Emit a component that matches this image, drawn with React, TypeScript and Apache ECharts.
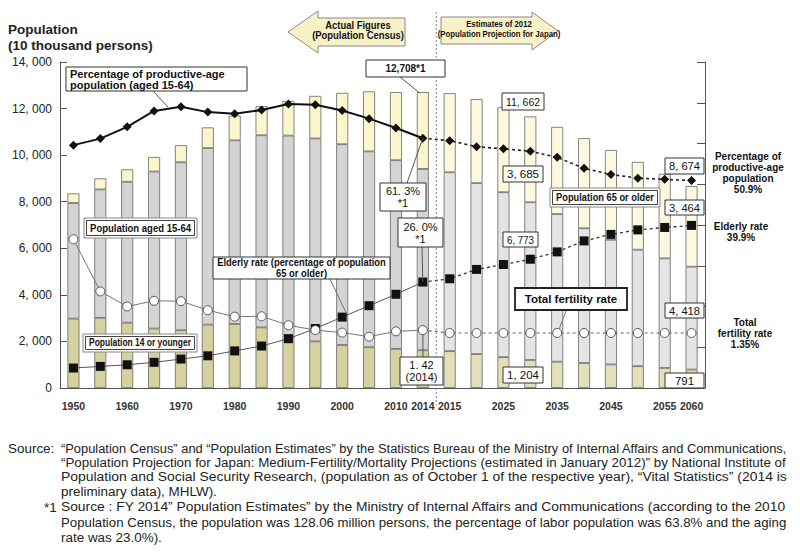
import React, { useEffect, useRef } from "react";
import * as echarts from "echarts";

const years = ["1950","1955","1960","1965","1970","1975","1980","1985","1990","1995","2000","2005","2010","2014","2015","2020","2025","2030","2035","2040","2045","2050","2055","2060"];
const shownYearLabels = ["1950","1960","1970","1980","1990","2000","2010","2014","2015","2025","2035","2045","2055","2060"];
const popUnder15 = [2979,3012,2807,2553,2482,2722,2751,2603,2249,2001,1847,1752,1680,1623,1583,1457,1324,1204,1129,1073,1012,939,861,791];
const pop15to64 = [4966,5517,6047,6744,7212,7581,7883,8251,8590,8716,8622,8409,8103,7785,7682,7341,7085,6773,6343,5787,5353,5001,4706,4418];
const pop65plus = [411,475,535,624,733,887,1065,1247,1489,1826,2204,2576,2925,3300,3395,3612,3657,3685,3741,3868,3856,3768,3626,3464];
const productiveRate = [59.6,61.2,64.1,68.0,69.0,67.7,67.3,68.2,69.7,69.5,68.1,66.1,63.8,61.3,60.7,59.2,58.7,58.1,56.6,53.9,52.4,51.5,51.2,50.9];
const elderlyRate = [4.9,5.3,5.7,6.3,7.1,7.9,9.1,10.3,12.1,14.6,17.4,20.2,23.0,26.0,26.8,29.1,30.3,31.6,33.4,36.1,37.7,38.8,39.4,39.9];
const fertilityRate = [3.65,2.37,2.00,2.14,2.13,1.91,1.75,1.76,1.54,1.42,1.36,1.26,1.39,1.42,1.35,1.35,1.35,1.35,1.35,1.35,1.35,1.35,1.35,1.35];
const lastActual = 13;

const SANS = "'Liberation Sans', Arial, sans-serif";

const fmtPop = (n: number) =>
  n >= 1000 ? `${Math.floor(n / 1000)}, ${String(n % 1000).padStart(3, "0")}` : String(n);

// [x, y, text, justified]
const sourceLines: [number, number, string, boolean][] = [
  [8, 448, "Source:", false],
  [61, 448, "“Population Census” and “Population Estimates” by the Statistics Bureau of the Ministry of Internal Affairs and Communications,", true],
  [61, 462, "“Population Projection for Japan: Medium-Fertility/Mortality Projections (estimated in January 2012)” by National Institute of", true],
  [61, 477, "Population and Social Security Research, (population as of October 1 of the respective year), “Vital Statistics” (2014 is", true],
  [61, 491, "preliminary data), MHLW).", false],
  [44, 507, "*1", false],
  [61, 507, "Source : FY 2014” Population Estimates” by the Ministry of Internal Affairs and Communications (according to the 2010", true],
  [61, 522, "Population Census, the population was 128.06 million persons, the percentage of labor population was 63.8% and the aging", true],
  [61, 537, "rate was 23.0%).", false],
];

let measureCtx: CanvasRenderingContext2D | null = null;
const measure = (t: string, size: number, weight = "normal") => {
  if (!measureCtx) measureCtx = document.createElement("canvas").getContext("2d");
  if (!measureCtx) return t.length * size * 0.5;
  measureCtx.font = `${weight} ${size}px 'Liberation Sans', Arial, sans-serif`;
  return Math.max(...t.split("\n").map((l) => measureCtx!.measureText(l).width));
};

export default function App() {
  const ref = useRef<HTMLDivElement>(null);
  useEffect(() => {
    const chart = echarts.init(ref.current!, null, { renderer: "svg", width: 800, height: 560 });
    const split = (vals: number[], actual: boolean) =>
      vals.map((v, i) =>
        actual ? (i <= lastActual ? v : null) : i < lastActual ? null : i === lastActual ? { value: v, symbol: "none" } : v
      );
    const barData = (vals: number[], c1: string, c2: string) =>
      vals.map((v, i) => ({ value: v, itemStyle: { color: i <= lastActual ? c1 : c2 } }));
    const fert10 = fertilityRate.map((v) => v * 10);

    const option: any = {
      animation: false,
      backgroundColor: "#ffffff",
      grid: { left: 60, right: 95, top: 62, bottom: 172 },
      xAxis: {
        type: "category",
        data: years,
        axisLine: { lineStyle: { color: "#555", width: 1 } },
        axisTick: { inside: true, length: 7, interval: 0, lineStyle: { color: "#555" } },
        axisLabel: {
          interval: (i: number, v: string) => shownYearLabels.includes(v),
          fontFamily: SANS,
          fontSize: 10.5,
          fontWeight: "bold",
          color: "#333",
          margin: 12,
        },
      },
      yAxis: [
        {
          type: "value",
          min: 0,
          max: 14000,
          interval: 2000,
          splitLine: { show: false },
          axisLine: { show: true, lineStyle: { color: "#555" } },
          axisTick: { show: true, inside: true, length: 7, lineStyle: { color: "#555" } },
          axisLabel: { formatter: (v: number) => fmtPop(v), fontFamily: SANS, fontSize: 12, color: "#222", margin: 8 },
        },
        {
          type: "value",
          min: 0,
          max: 80,
          interval: 10,
          position: "right",
          splitLine: { show: false },
          axisLine: { show: true, lineStyle: { color: "#555" } },
          axisTick: { show: true, inside: true, length: 8, lineStyle: { color: "#555" } },
          axisLabel: { show: false },
        },
      ],
      series: [
        { type: "bar", name: "Population 14 or younger", stack: "pop", barWidth: 12, data: barData(popUnder15, "#d6d2a0", "#e3dfbb"), itemStyle: { borderColor: "#666", borderWidth: 0.8 } },
        { type: "bar", name: "Population aged 15-64", stack: "pop", barWidth: 12, data: barData(pop15to64, "#d4d4d4", "#e4e4e4"), itemStyle: { borderColor: "#666", borderWidth: 0.8 } },
        { type: "bar", name: "Population 65 or older", stack: "pop", barWidth: 12, data: barData(pop65plus, "#fbf6cc", "#fcf9de"), itemStyle: { borderColor: "#666", borderWidth: 0.8 } },
        { type: "line", name: "Productive actual", yAxisIndex: 1, data: split(productiveRate, true), symbol: "diamond", symbolSize: 9, itemStyle: { color: "#111" }, lineStyle: { color: "#111", width: 2 }, z: 5 },
        { type: "line", name: "Productive projection", yAxisIndex: 1, data: split(productiveRate, false), symbol: "diamond", symbolSize: 9, itemStyle: { color: "#111" }, lineStyle: { color: "#222", width: 1.6, type: [3, 3] }, z: 5 },
        { type: "line", name: "Elderly actual", yAxisIndex: 1, data: split(elderlyRate, true), symbol: "rect", symbolSize: 9, itemStyle: { color: "#111" }, lineStyle: { color: "#555", width: 1 }, z: 5 },
        { type: "line", name: "Elderly projection", yAxisIndex: 1, data: split(elderlyRate, false), symbol: "rect", symbolSize: 9, itemStyle: { color: "#111" }, lineStyle: { color: "#333", width: 1.3, type: [3, 3] }, z: 5 },
        { type: "line", name: "TFR actual", yAxisIndex: 1, data: split(fert10, true), symbol: "circle", symbolSize: 9, itemStyle: { color: "#fff", borderColor: "#555", borderWidth: 1 }, lineStyle: { color: "#777", width: 1 }, z: 5 },
        { type: "line", name: "TFR projection", yAxisIndex: 1, data: split(fert10, false), symbol: "circle", symbolSize: 9, itemStyle: { color: "#fff", borderColor: "#555", borderWidth: 1 }, lineStyle: { color: "#666", width: 1.2, type: [3, 3] }, z: 5 },
      ],
    };
    chart.setOption(option);

    const px = (i: number, v: number, ax: number) =>
      chart.convertToPixel({ xAxisIndex: 0, yAxisIndex: ax }, [i, v]) as number[];
    const total = (i: number) => popUnder15[i] + pop15to64[i] + pop65plus[i];
    const sepX = (px(lastActual, 0, 0)[0] + px(lastActual + 1, 0, 0)[0]) / 2;

    const Z = 50;
    const g: any[] = [];
    const line = (x1: number, y1: number, x2: number, y2: number, stroke = "#444", dash?: number[]) =>
      g.push({ type: "line", z: Z, shape: { x1, y1, x2, y2 }, style: { stroke, lineWidth: 1, lineDash: dash } });
    const text = (x: number, y: number, t: string, o: any = {}) =>
      g.push({
        type: "text",
        z: Z + 2,
        x,
        y,
        scaleX: o.scaleX || 1,
        style: {
          text: t,
          fontFamily: SANS,
          fontSize: o.size || 10,
          fontWeight: o.weight || "normal",
          fill: o.fill || "#111",
          textAlign: o.align || "center",
          textVerticalAlign: o.valign || "middle",
          lineHeight: o.lh || 11,
        },
      });
    const box = (x: number, y: number, w: number, h: number, t: string, o: any = {}) => {
      g.push({ type: "rect", z: Z, shape: { x, y, width: w, height: h }, style: { fill: "#fff", stroke: o.stroke || "#333", lineWidth: o.lw || 1 } });
      const pad = o.double ? 12 : 8;
      if (o.double) {
        g.push({ type: "rect", z: Z + 1, shape: { x: x + 2.5, y: y + 2.5, width: w - 5, height: h - 5 }, style: { fill: "#fff", stroke: "#444", lineWidth: 1 } });
      }
      const tw = measure(t, o.size || 10, o.weight || "normal");
      const sx = Math.min(1, (w - pad) / tw);
      if (o.left) text(x + 4, y + h / 2, t, { ...o, align: "left", scaleX: sx });
      else text(x + w / 2, y + h / 2, t, { ...o, scaleX: sx });
    };

    // separator
    line(sepX, 12, sepX, 405, "#888", [2, 2]);

    // arrows
    g.push({ type: "polygon", z: Z, shape: { points: [[288, 32], [318, 11], [318, 18], [405, 18], [405, 46], [318, 46], [318, 53]] }, style: { fill: "#f9f1c8", stroke: "#8a8a8a", lineWidth: 1 } });
    text(358, 30, "Actual Figures\n(Population Census)", { weight: "bold", size: 10.5, lh: 10, scaleX: 0.9 });
    g.push({ type: "polygon", z: Z, shape: { points: [[441, 17], [532, 17], [532, 12], [558, 31], [532, 50], [532, 44], [441, 44]] }, style: { fill: "#f9f1c8", stroke: "#8a8a8a", lineWidth: 1 } });
    text(499, 29, "Estimates of 2012\n(Population Projection for Japan)", { weight: "bold", size: 9.5, lh: 10, scaleX: 0.82 });

    // title
    text(8, 29, "Population", { weight: "bold", size: 13.5, align: "left", fill: "#222" });
    text(8, 45, "(10 thousand persons)", { weight: "bold", size: 13.5, align: "left", fill: "#222" });

    // leader lines
    const dProd = px(lastActual, productiveRate[lastActual], 1);
    const dEld = px(lastActual, elderlyRate[lastActual], 1);
    const dTfr = px(lastActual, fert10[lastActual], 1);
    const dTop = px(lastActual, total(lastActual), 0);
    const dEld2000 = px(10, elderlyRate[10], 1);
    const dTfr2035 = px(18, fert10[18], 1);
    line(153, 91, 168, 107, "#555");
    line(400, 77, dTop[0] - 3, dTop[1] + 1, "#555");
    line(407, 183, dProd[0], dProd[1], "#555");
    line(422, 247, dEld[0], dEld[1], "#555");
    line(423, 357, dTfr[0], dTfr[1] + 4, "#555");
    line(330, 279, dEld2000[0] + 4, dEld2000[1] - 4, "#777");
    line(566, 311, dTfr2035[0] + 2, dTfr2035[1] - 4, "#777");

    // annotation boxes
    box(66, 67, 181, 24, "Percentage of productive-age\npopulation (aged 15-64)", { weight: "bold", size: 11, lh: 11, left: true });
    box(84, 218, 113, 20, "Population aged 15-64", { weight: "bold", size: 10, double: true, stroke: "#888" });
    box(83, 334, 114, 18, "Population 14 or younger", { weight: "bold", size: 10, double: true, stroke: "#888" });
    box(213, 257, 177, 22, "Elderly rate (percentage of population\n65 or older)", { weight: "bold", size: 10.5, lh: 10.5 });
    box(366, 60, 79, 17, fmtPop(total(lastActual)).replace(", ", ",") + "*1", { weight: "bold", size: 10 });
    box(380, 183, 46, 28, "61. 3%\n*1", { size: 11, lh: 12 });
    box(398, 218, 45, 29, "26. 0%\n*1", { size: 11, lh: 12 });
    box(400, 357, 43, 28, "1. 42\n(2014)", { size: 11, lh: 12 });
    box(502, 93, 42, 17, fmtPop(total(17)), { size: 11.5 });
    box(503, 166, 40, 16, fmtPop(pop65plus[17]), { size: 11.5 });
    box(503, 232, 35, 15, fmtPop(pop15to64[17]), { size: 11.5 });
    box(503, 367, 40, 16, fmtPop(popUnder15[17]), { size: 11.5 });
    box(550, 188, 110, 19, "Population 65 or older", { weight: "bold", size: 10.5, double: true, stroke: "#888" });
    box(515, 288, 112, 22, "Total fertility rate", { weight: "bold", size: 11.5, lw: 1.8, stroke: "#222" });
    box(665, 158, 39, 16, "8, 674", { size: 11.5 });
    box(665, 200, 39, 15, fmtPop(pop65plus[23]), { size: 11.5 });
    box(665, 303, 39, 15, fmtPop(pop15to64[23]), { size: 11.5 });
    box(665, 373, 39, 15, fmtPop(popUnder15[23]), { size: 11.5 });

    // right side labels
    text(748, 173, "Percentage of\nproductive-age\npopulation\n50.9%", { weight: "bold", size: 10, lh: 11 });
    text(741, 232, "Elderly rate\n39.9%", { weight: "bold", size: 10, lh: 11 });
    text(745, 333, "Total\nfertility rate\n1.35%", { weight: "bold", size: 10, lh: 11 });

    // source (justified lines scaled horizontally to the column width)
    const SRC = 13.5;
    const right = 787;
    const scales: number[] = [];
    sourceLines.forEach(([x, , t, j]) => {
      if (j) scales.push((right - x) / measure(t, SRC));
    });
    const avg = scales.reduce((a, b) => a + b, 0) / scales.length;
    sourceLines.forEach(([x, y, t, j]) => {
      const sx = j ? (right - x) / measure(t, SRC) : avg;
      text(x, y, t, { align: "left", size: SRC, fill: "#222", scaleX: sx });
    });

    chart.setOption({ graphic: { elements: g } });
    return () => chart.dispose();
  }, []);
  return <div ref={ref} style={{ position: "absolute", left: 0, top: 0, width: 800, height: 560 }} />;
}
